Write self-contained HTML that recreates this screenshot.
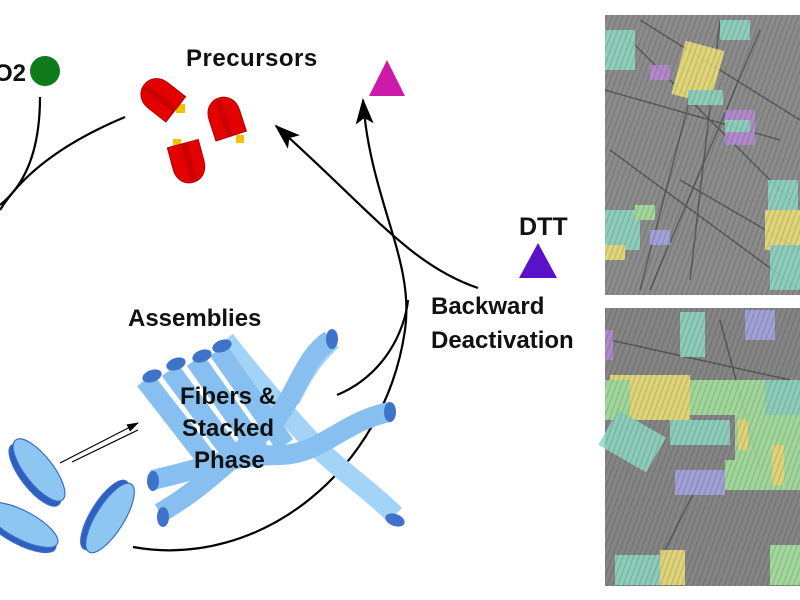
<!DOCTYPE html>
<html><head><meta charset="utf-8"><style>
html,body{margin:0;padding:0;background:#fff;}
svg{display:block}
text{font-family:"Liberation Sans",sans-serif;font-weight:bold;fill:#111}
</style></head><body>
<svg width="800" height="600" viewBox="0 0 800 600" xmlns="http://www.w3.org/2000/svg">
<defs>
<marker id="ah" markerWidth="26" markerHeight="18" refX="24" refY="9" orient="auto" markerUnits="userSpaceOnUse">
<path d="M0,0 L26,9 L0,18 L6,9 Z" fill="#000"/></marker>
<marker id="sh" markerWidth="12" markerHeight="8" refX="11" refY="4" orient="auto" markerUnits="userSpaceOnUse">
<path d="M0,0 L12,4 L0,8 Z" fill="#000"/></marker>
<pattern id="stripe" width="5" height="5" patternUnits="userSpaceOnUse" patternTransform="rotate(20)">
<rect width="5" height="5" fill="none"/><rect width="1.5" height="5" fill="#000" opacity="0.12"/></pattern>
<g id="bul"><path d="M-16,20 L-16,-2 C-16,-26 16,-26 16,-2 L16,20 Z" fill="#e30000" stroke="#b00000"/><path d="M-4,20 L-4,-18 L2,-18 L2,20Z" fill="#b80000" opacity="0.6"/></g>
</defs>
<g fill="none" stroke="#000" stroke-width="2.2">
<path d="M40,97 C40,150 25,185 0,205"/>
<path d="M125,117 C70,140 25,170 0,210"/>
<path d="M133,547 C260,570 385,470 405,330 C415,260 370,200 363,100" marker-end="url(#ah)"/>
<path d="M337,395 C385,375 405,330 408,300"/>
<path d="M478,288 C410,265 370,210 276,126" marker-end="url(#ah)"/>
<path d="M60,463 L138,423" stroke-width="1.2" marker-end="url(#sh)"/>
<path d="M138,430 L72,462" stroke-width="1.2"/>
</g>
<circle cx="45" cy="71" r="15" fill="#0f7a1a"/>
<text x="-6" y="81" font-size="24">O2</text>
<polygon points="387,60 369,96 405,96" fill="#cc1aaa"/>
<polygon points="538,243 519,278 557,278" fill="#5a12c8"/>
<text x="186" y="66" font-size="24" letter-spacing="0.5">Precursors</text>
<text x="519" y="235" font-size="25">DTT</text>
<text x="431" y="314" font-size="24">Backward</text>
<text x="431" y="348" font-size="24">Deactivation</text>
<text x="128" y="326" font-size="24">Assemblies</text>
<g fill="#f5c000"><rect x="176" y="104" width="9" height="9"/><rect x="236" y="135" width="8" height="8"/><rect x="173" y="139" width="8" height="8"/></g>
<use href="#bul" transform="translate(160,97) rotate(-52)"/>
<use href="#bul" transform="translate(225,117) rotate(-18)"/>
<use href="#bul" transform="translate(188,163) rotate(165)"/>
<g stroke="#86bff0" stroke-width="20" fill="none" stroke-linecap="butt">
<path d="M225,340 C260,385 300,430 320,450 C340,470 370,490 395,515" stroke="#a4d3f8"/>
<path d="M332,340 C310,360 300,380 290,400" stroke="#a4d3f8"/>
<path d="M145,380 L215,470"/>
<path d="M170,370 L240,465"/>
<path d="M195,360 L262,455"/>
<path d="M218,350 L285,445"/>
<path d="M160,513 C200,490 230,460 265,430 C295,405 300,360 330,340"/>
<path d="M152,480 C200,470 230,455 280,455 C320,455 345,420 390,412"/>
</g>
<g fill="#3f72c9">
<ellipse cx="152" cy="376" rx="10" ry="6" transform="rotate(-20 152 376)"/>
<ellipse cx="176" cy="364" rx="10" ry="6" transform="rotate(-20 176 364)"/>
<ellipse cx="202" cy="356" rx="10" ry="6" transform="rotate(-20 202 356)"/>
<ellipse cx="222" cy="346" rx="10" ry="6" transform="rotate(-20 222 346)"/>
<ellipse cx="332" cy="339" rx="6" ry="10"/>
<ellipse cx="390" cy="412" rx="6" ry="10"/>
<ellipse cx="395" cy="520" rx="10" ry="6" transform="rotate(20 395 520)"/>
<ellipse cx="153" cy="481" rx="6" ry="10"/>
<ellipse cx="163" cy="517" rx="6" ry="10"/>
</g>
<text x="180" y="404" font-size="24">Fibers &amp;</text>
<text x="182" y="436" font-size="24">Stacked</text>
<text x="194" y="468" font-size="24">Phase</text>
<g stroke="#3a6cc7" stroke-width="1.2">
<ellipse cx="35" cy="475" rx="14" ry="38" transform="rotate(-38 35 475)" fill="#2f5fc0"/>
<ellipse cx="39" cy="470" rx="14" ry="38" transform="rotate(-38 39 470)" fill="#8ec6f2"/>
<ellipse cx="20" cy="530" rx="14" ry="40" transform="rotate(-62 20 530)" fill="#2f5fc0"/>
<ellipse cx="22" cy="525" rx="14" ry="40" transform="rotate(-62 22 525)" fill="#8ec6f2"/>
<ellipse cx="105" cy="515" rx="14" ry="40" transform="rotate(32 105 515)" fill="#2f5fc0"/>
<ellipse cx="110" cy="518" rx="14" ry="40" transform="rotate(32 110 518)" fill="#8ec6f2"/>
</g>
<rect x="605" y="15" width="195" height="280" fill="#8c8c8c"/>
<rect x="605" y="308" width="195" height="278" fill="#858585"/>
<g stroke="#3a3a3a" stroke-width="1.5" opacity="0.6" fill="none">
<path d="M620,30 L790,200"/><path d="M640,20 L800,120"/><path d="M700,60 L640,290"/><path d="M610,150 L800,290"/>
<path d="M720,20 L690,280"/><path d="M760,30 L650,290"/><path d="M605,90 L780,140"/><path d="M680,180 L800,250"/>
<path d="M610,340 L790,380"/><path d="M700,480 L650,580"/><path d="M720,320 L760,470"/>
</g>
<g opacity="0.85">
<rect x="605" y="30" width="30" height="40" fill="#8fd9c4"/>
<rect x="678" y="45" width="40" height="55" fill="#f0e27a" transform="rotate(15 698 72)"/>
<rect x="688" y="90" width="35" height="15" fill="#8fd9c4"/>
<rect x="725" y="110" width="30" height="35" fill="#b98ad6"/>
<rect x="725" y="120" width="25" height="12" fill="#8fd9c4"/>
<rect x="650" y="65" width="20" height="15" fill="#b98ad6"/>
<rect x="720" y="20" width="30" height="20" fill="#8fd9c4"/>
<rect x="768" y="180" width="30" height="30" fill="#8fd9c4"/>
<rect x="765" y="210" width="35" height="40" fill="#f0e27a"/>
<rect x="770" y="245" width="30" height="45" fill="#8fd9c4"/>
<rect x="605" y="210" width="35" height="40" fill="#8fd9c4"/>
<rect x="605" y="245" width="20" height="15" fill="#f0e27a"/>
<rect x="635" y="205" width="20" height="15" fill="#a8e6a0"/>
<rect x="650" y="230" width="20" height="15" fill="#a6a6e6"/>
<rect x="605" y="330" width="8" height="30" fill="#b98ad6"/>
<rect x="680" y="312" width="25" height="45" fill="#8fd9c4"/>
<rect x="745" y="310" width="30" height="30" fill="#a6a6e6"/>
<rect x="610" y="375" width="80" height="45" fill="#f0e27a"/>
<rect x="605" y="380" width="25" height="40" fill="#a8e6a0"/>
<rect x="690" y="380" width="80" height="35" fill="#a8e6a0"/>
<rect x="765" y="380" width="35" height="35" fill="#8fd9c4"/>
<rect x="605" y="420" width="55" height="40" fill="#8fd9c4" transform="rotate(30 630 440)"/>
<rect x="670" y="420" width="60" height="25" fill="#8fd9c4"/>
<rect x="735" y="415" width="65" height="45" fill="#a8e6a0"/>
<rect x="738" y="420" width="10" height="30" fill="#f0e27a"/>
<rect x="675" y="470" width="50" height="25" fill="#a6a6e6"/>
<rect x="725" y="460" width="75" height="30" fill="#a8e6a0"/>
<rect x="772" y="445" width="12" height="40" fill="#f0e27a"/>
<rect x="615" y="555" width="60" height="30" fill="#8fd9c4"/>
<rect x="660" y="550" width="25" height="35" fill="#f0e27a"/>
<rect x="770" y="545" width="30" height="40" fill="#a8e6a0"/>
</g>
<rect x="605" y="15" width="195" height="280" fill="url(#stripe)"/>
<rect x="605" y="308" width="195" height="278" fill="url(#stripe)"/>
</svg>
</body></html>
